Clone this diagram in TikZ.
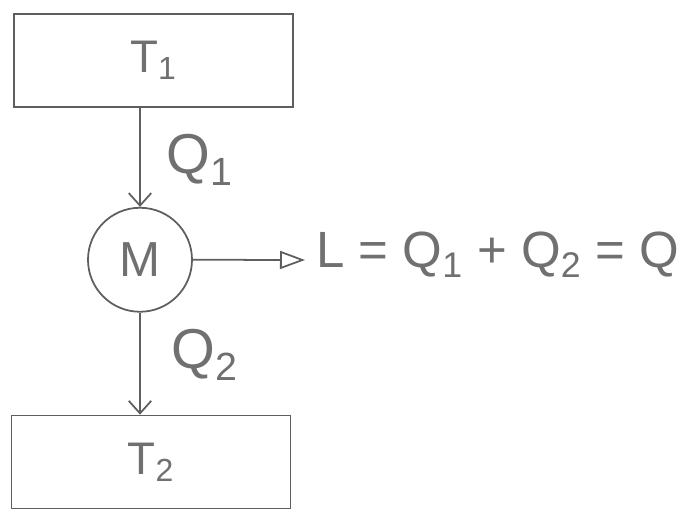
\documentclass[tikz,border=0pt]{standalone}
\usepackage{fontspec}
\setmainfont{Liberation Sans}
\usepackage{xcolor}
\definecolor{penGray}{HTML}{5E5E5E}
\definecolor{inkGray}{HTML}{707070}
\usepackage{tikz}
\usetikzlibrary{
    arrows.meta,
    positioning
}
\tikzset{
    % Base style for all nodes
    sketch base/.style={
        align=center,
        text=inkGray,
        draw=penGray,
        line width=1pt,
    },
    % Reservoir boxes
    reservoir/.style={
        sketch base,
        rectangle,
        minimum width=5.58cm,
        minimum height=1.86cm,
        font=\fontsize{26}{30}\selectfont,
    },
    % Engine circle
    engine/.style={
        sketch base,
        circle,
        minimum size=2.08cm,
        inner sep=0pt,
        font=\fontsize{28}{32}\selectfont,
    },
    % Heat flow arrow
    arrow/.style={
        -{Straight Barb[length=2.5mm, width=4.5mm]},
        line width=1pt,
        draw=penGray,
    },
    % Work arrow with open tip
    arrow work/.style={
        -{Triangle[open, length=5mm, width=3.6mm]},
        line width=1pt,
        draw=penGray,
    },
    % Label style for heat and work
    heat label/.style={
        font=\fontsize{32}{36}\selectfont,
        text=inkGray,
        inner sep=0pt,
    },
}

\begin{document}
\begin{tikzpicture}
    \useasboundingbox (0,0) rectangle (13.86,-10.16);
    \node (hot) [reservoir] at (3.07,-1.21) {T\textsubscript{1}};
    \node (m) [engine, below=1.98cm of hot, xshift=-0.27cm] {M};
    \node (cold) [reservoir, below=2.04cm of m, xshift=0.22cm] {T\textsubscript{2}};
    \coordinate (out) at (6.1,-5.2);
    \node (work) [heat label, font=\fontsize{29}{33}\selectfont, right=0.22cm of out, yshift=0.1cm] {L = Q\textsubscript{1} + Q\textsubscript{2} = Q};
    \node (q1) [heat label] at (4.0,-3.2) {Q\textsubscript{1}};
    \node (q2) [heat label] at (4.1,-7.1) {Q\textsubscript{2}};

    \draw [arrow] (m.north |- hot.south) -- (m.north);
    \draw [arrow] (m.south) -- (m.south |- cold.north);
    \draw [arrow work] (m.east) -- (out);
\end{tikzpicture}
\end{document}
